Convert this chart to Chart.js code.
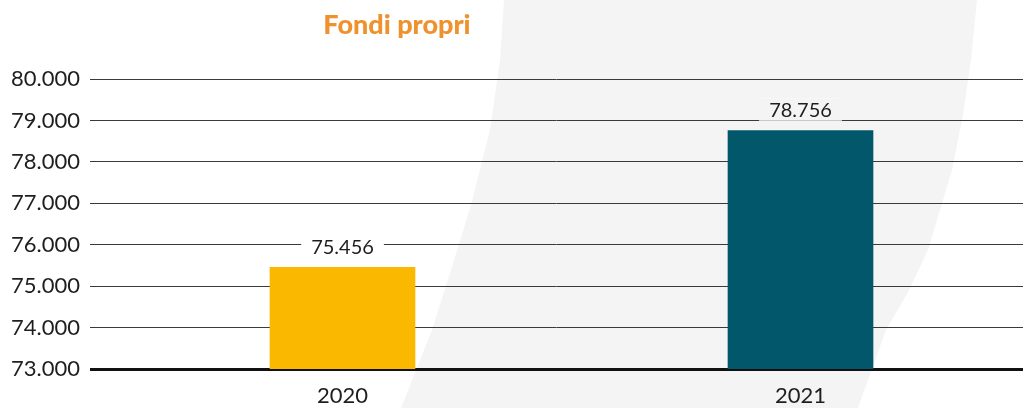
<!DOCTYPE html>
<html>
<head>
<meta charset="utf-8">
<script src="https://cdn.jsdelivr.net/npm/chart.js@4/dist/chart.umd.min.js"></script>
<style>
  html, body { margin: 0; padding: 0; background: #ffffff; }
  #wrap { position: relative; width: 1023px; height: 408px; }
  canvas { display: block; }
</style>
</head>
<body>
<div id="wrap"><canvas id="c" width="1023" height="408"></canvas></div>
<script>
// ---- data ----
const chartTitle = 'Fondi propri';
const categories = ['2020', '2021'];
const values = [75456, 78756];
const barColors = ['#FAB800', '#02586A'];
const yMin = 73000;
const yMax = 80000;
const yStep = 1000;

function fmt(n) {
  return String(Math.round(n)).replace(/\B(?=(\d{3})+(?!\d))/g, '.');
}

// decorative background swoosh outline
const leftEdge = [[504,0],[500,60],[490,130],[471,205],[451,270],[432,330],[401,408]];
const rightEdge = [[977,0],[971,60],[963,115],[952,170],[928,250],[908,292],[886,330],[858,408]];

function drawBackground(ctx, w, h) {
  ctx.fillStyle = '#ffffff';
  ctx.fillRect(0, 0, w, h);
  ctx.beginPath();
  ctx.moveTo(leftEdge[0][0], leftEdge[0][1]);
  for (let i = 1; i < leftEdge.length; i++) ctx.lineTo(leftEdge[i][0], leftEdge[i][1]);
  for (let i = rightEdge.length - 1; i >= 0; i--) ctx.lineTo(rightEdge[i][0], rightEdge[i][1]);
  ctx.closePath();
  ctx.fillStyle = '#f4f4f4';
  ctx.fill();
}

const bgPlugin = {
  id: 'bg',
  beforeDraw(chart) {
    const ctx = chart.ctx;
    ctx.save();
    drawBackground(ctx, chart.width, chart.height);
    ctx.restore();
  },
  afterDatasetsDraw(chart) {
    const ctx = chart.ctx;
    const meta = chart.getDatasetMeta(0);
    ctx.save();
    ctx.font = '20px Lato';
    meta.data.forEach((bar, i) => {
      const txt = fmt(values[i]);
      const cx = bar.x;
      const cy = bar.y - 21;
      const tw = ctx.measureText(txt).width;
      const rw = tw + 20, rh = 22;
      ctx.save();
      ctx.beginPath();
      ctx.rect(cx - rw / 2, cy - rh / 2, rw, rh);
      ctx.clip();
      drawBackground(ctx, chart.width, chart.height);
      ctx.restore();
      ctx.fillStyle = '#1e1e1e';
      ctx.textAlign = 'center';
      ctx.textBaseline = 'middle';
      ctx.fillText(txt, cx, cy + 1);
    });
    // title
    ctx.font = '900 27px Lato';
    ctx.fillStyle = '#EF922E';
    ctx.textAlign = 'center';
    ctx.textBaseline = 'alphabetic';
    ctx.fillText(chartTitle, 397, 34);
    ctx.restore();
  }
};

// x positions: linear scale spanning the plot so bars fall at the reference centres
const xMin = -0.5513;
const xMax = 1.4858;

new Chart(document.getElementById('c'), {
  type: 'bar',
  data: {
    datasets: [{
      data: categories.map((c, i) => ({ x: i, y: values[i] })),
      backgroundColor: barColors,
      borderWidth: 0,
      barThickness: 145
    }]
  },
  options: {
    responsive: false,
    animation: false,
    devicePixelRatio: 1,
    layout: { padding: { top: 79, right: 0, left: 0, bottom: 0 } },
    plugins: {
      legend: { display: false },
      tooltip: { enabled: false },
      title: { display: false }
    },
    scales: {
      x: {
        type: 'linear',
        offset: false,
        min: xMin,
        max: xMax,
        afterBuildTicks(scale) { scale.ticks = categories.map((c, i) => ({ value: i })); },
        afterFit(scale) { scale.height = 39; },
        grid: { display: false, drawTicks: false, offset: false },
        border: { display: false },
        ticks: {
          autoSkip: false,
          maxRotation: 0,
          padding: 14,
          color: '#1e1e1e',
          font: { family: 'Lato', size: 22 },
          callback: (v) => categories[v]
        }
      },
      y: {
        min: yMin,
        max: yMax,
        afterFit(scale) { scale.width = 90; },
        grid: {
          drawTicks: false,
          color: (c) => c.tick && c.tick.value === yMin ? '#111111' : '#3a3a3a',
          lineWidth: (c) => c.tick && c.tick.value === yMin ? 3 : 1
        },
        border: { display: false },
        ticks: {
          stepSize: yStep,
          padding: 10,
          color: '#1e1e1e',
          font: { family: 'Lato', size: 22 },
          callback: (v) => fmt(v)
        }
      }
    }
  },
  plugins: [bgPlugin]
});
</script>
</body>
</html>
